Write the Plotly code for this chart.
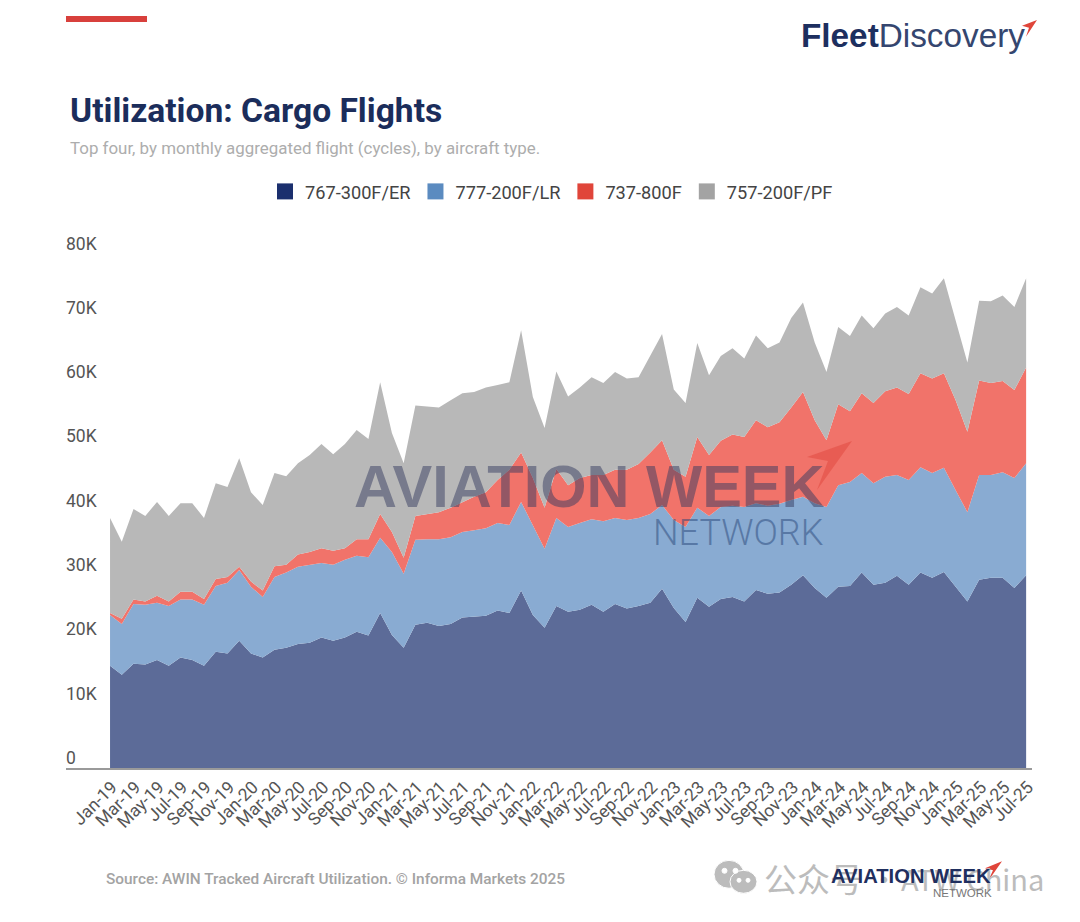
import plotly.graph_objects as go

# months shown on the x axis, Jan-19 .. Jul-25
month_names = ["Jan", "Feb", "Mar", "Apr", "May", "Jun", "Jul", "Aug", "Sep", "Oct", "Nov", "Dec"]
months = [f"{month_names[i % 12]}-{19 + i // 12}" for i in range(79)]

# monthly flight cycles, thousands
b767 = [15.9, 14.5, 16.2, 16.1, 16.8, 15.9, 17.2, 16.8, 15.9, 18.1, 17.8, 19.8,
        17.8, 17.2, 18.4, 18.7, 19.3, 19.5, 20.3, 19.8, 20.3, 21.2, 20.6, 24.1,
        20.7, 18.7, 22.3, 22.6, 22.1, 22.4, 23.4, 23.5, 23.7, 24.5, 24.1, 27.6,
        23.8, 21.8, 25.2, 24.3, 24.6, 25.4, 24.3, 25.5, 24.8, 25.2, 25.7, 27.9,
        24.9, 22.7, 26.5, 25.1, 26.3, 26.6, 25.9, 27.7, 27.1, 27.3, 28.5, 30.0,
        28.0, 26.5, 28.2, 28.3, 30.4, 28.5, 28.8, 29.9, 28.5, 30.4, 29.6, 30.5,
        28.2, 25.9, 29.3, 29.6, 29.6, 28.0, 30.0]
b777 = [7.9, 7.9, 9.3, 9.3, 8.9, 9.3, 9.0, 9.4, 9.5, 10.2, 11.0, 11.0,
        10.4, 9.4, 11.3, 11.7, 12.0, 12.1, 11.6, 11.8, 12.1, 11.8, 12.2, 11.7,
        12.9, 11.5, 13.2, 13.0, 13.5, 13.5, 13.3, 13.5, 13.6, 13.6, 13.7, 13.8,
        13.9, 12.3, 13.7, 13.2, 13.5, 13.3, 14.1, 13.4, 13.8, 13.7, 13.8, 13.0,
        13.7, 14.8, 14.0, 14.1, 14.3, 14.2, 14.7, 13.5, 13.7, 13.8, 13.2, 12.2,
        13.2, 14.1, 15.8, 16.2, 15.5, 15.8, 16.5, 15.7, 16.3, 16.4, 16.3, 16.2,
        15.0, 13.9, 16.3, 16.0, 16.4, 17.1, 17.4]
b737 = [0.3, 0.8, 0.7, 0.5, 1.1, 0.7, 1.2, 1.2, 0.9, 1.1, 0.9, 0.5,
        0.8, 1.0, 1.7, 1.2, 1.9, 2.0, 2.3, 2.2, 1.8, 2.6, 2.8, 3.7,
        3.1, 2.5, 3.7, 3.9, 4.2, 4.6, 4.7, 5.2, 5.6, 6.7, 8.6, 7.7,
        7.4, 6.4, 7.6, 6.5, 7.0, 6.9, 7.2, 7.5, 7.8, 8.4, 9.6, 10.1,
        7.8, 7.8, 11.0, 9.5, 10.3, 11.1, 10.9, 12.9, 12.2, 12.7, 14.4, 16.3,
        12.9, 10.4, 12.6, 11.0, 12.4, 12.5, 13.3, 13.6, 13.4, 14.6, 14.7, 14.7,
        14.0, 12.5, 14.7, 14.3, 14.2, 13.7, 14.9]
b757 = [14.8, 12.0, 14.1, 13.3, 14.6, 13.3, 13.8, 13.8, 12.6, 14.9, 14.0, 16.9,
        13.9, 13.3, 14.5, 13.8, 14.2, 15.1, 16.2, 15.0, 16.2, 17.0, 15.6, 20.5,
        15.4, 14.7, 17.2, 16.8, 16.3, 16.7, 16.9, 16.3, 16.3, 14.8, 13.6, 19.0,
        12.6, 12.4, 15.2, 13.8, 14.1, 15.2, 14.3, 15.2, 14.2, 13.5, 15.1, 16.5,
        12.5, 11.5, 14.6, 12.4, 13.2, 13.4, 12.2, 13.2, 12.3, 12.4, 13.9, 13.9,
        12.1, 10.6, 12.0, 11.7, 12.1, 11.6, 12.1, 12.5, 12.2, 13.4, 13.2, 14.8,
        12.4, 10.8, 12.4, 12.7, 13.3, 12.9, 13.9]

series_names = ["767-300F/ER", "777-200F/LR", "737-800F", "757-200F/PF"]
series_values = [b767, b777, b737, b757]
area_colors = ["#5c6b98", "#89abd2", "#f1736a", "#b8b8b8"]
legend_colors = ["#1b2f6e", "#5b8bc0", "#e0453a", "#a3a3a3"]

y_ticks = [0, 10, 20, 30, 40, 50, 60, 70, 80]
y_labels = ["0", "10K", "20K", "30K", "40K", "50K", "60K", "70K", "80K"]

# the page sits 8px inside the window (body margin), everything below is in window pixels
PAGE = 8
LEFT, RIGHT, TOP, BOTTOM = 66, 1032, 227.5, 768.5


def fx(px):
    return (px - LEFT) / (RIGHT - LEFT)


def fy(py):
    return (BOTTOM - py) / (BOTTOM - TOP)


def polygon(points, color):
    path = "M " + " L ".join(f"{fx(x)} {fy(y)}" for x, y in points) + " Z"
    return dict(type="path", xref="paper", yref="paper", path=path, fillcolor=color, line_width=0, layer="above")


def oval(x0, y0, x1, y1, color):
    return dict(type="circle", xref="paper", yref="paper", x0=fx(x0), x1=fx(x1), y0=fy(y0), y1=fy(y1),
                fillcolor=color, line=dict(color="white", width=1), layer="above")


def label(text, x, y, size, color, family="Roboto", anchor="left", weight=None):
    fig.add_annotation(text=text, xref="paper", yref="paper", x=fx(x), y=fy(y), xanchor=anchor, yanchor="middle",
                       showarrow=False, borderpad=0,
                       font=dict(family=family, size=size, color=color, weight=weight))


fig = go.Figure()

# stacked areas
for name, values, color in zip(series_names, series_values, area_colors):
    fig.add_trace(go.Scatter(x=months, y=values, name=name, mode="lines", stackgroup="one",
                             line=dict(width=0, color=color), fillcolor=color, showlegend=False))

# legend has solid square swatches, darker than the areas
for name, color in zip(series_names, legend_colors):
    fig.add_trace(go.Scatter(x=[None], y=[None], name=name, mode="markers",
                             marker=dict(symbol="square", size=18, color=color)))

# header
label("Utilization: Cargo Flights", 69, 109.5, 33.6, "#1b2d5b", weight="bold")
label("Top four, by monthly aggregated flight (cycles), by aircraft type.", 69, 147.5, 16.9, "#adadad")
label("<b>Fleet</b><span style='color:#35466f'>Discovery</span>", 800, 35, 33.3, "#1d2f5f", family="Liberation Sans")

# watermark over the areas
label("AVIATION WEEK", 353, 486, 59.5, "rgba(54,60,96,0.5)", family="Liberation Sans", weight="bold")
label("NETWORK", 652, 533, 36, "rgba(40,70,120,0.5)", weight=300)

# footer
label("Source: AWIN Tracked Aircraft Utilization. © Informa Markets 2025", 105, 880, 15.4, "#a3a3a3", weight=500)
label("公众号", 763, 879, 33, "#bcbcbc", family="Noto Sans CJK SC")
label("·", 868, 879, 30, "#bcbcbc", family="Noto Sans CJK SC")
label("ATW China", 1045, 879, 29, "#bcbcbc", family="Noto Sans CJK SC", anchor="right")
label("AVIATION WEEK", 830, 877, 20.2, "#1f2f5f", family="Liberation Sans", weight="bold")
label("NETWORK", 932, 893.5, 11.5, "#777777", family="Liberation Sans")

shapes = [
    dict(type="rect", xref="paper", yref="paper", x0=fx(66), x1=fx(147), y0=fy(15), y1=fy(21),
         fillcolor="#d8403c", line_width=0),
    polygon([(852, 441), (807, 457), (828, 461), (817, 490)], "rgba(224,70,60,0.5)"),
    polygon([(1037, 19), (1022, 25), (1029, 27), (1026, 36)], "#e0453a"),
    polygon([(1002, 862), (985, 869), (993, 871), (988, 882)], "#e0453a"),
    # wechat mark
    oval(714, 861, 744, 889, "#bcbcbc"),
    oval(730, 871, 757, 894, "#bcbcbc"),
    oval(722, 869, 727, 874, "white"),
    oval(733, 869, 738, 874, "white"),
    oval(737, 879, 741, 883, "white"),
    oval(746, 879, 750, 883, "white"),
]

fig.update_layout(
    width=1080 - 2 * PAGE,
    height=922 - 2 * PAGE,
    margin=dict(l=LEFT - PAGE, r=1080 - PAGE - RIGHT, t=TOP - PAGE, b=922 - PAGE - BOTTOM),
    plot_bgcolor="white",
    paper_bgcolor="white",
    font=dict(family="Roboto", color="#555555"),
    shapes=shapes,
    hovermode="x",
    legend=dict(orientation="h", x=fx(265), xanchor="left", y=fy(191), yanchor="middle", traceorder="normal",
                font=dict(family="Roboto", size=18.2, color="#444444"), itemsizing="trace"),
    xaxis=dict(type="category", categoryorder="array", categoryarray=months, range=[-3.75, 78.5],
               tickvals=months[::2], ticktext=months[::2], tickangle=-45, ticks="", ticklabelshift=2,
               showgrid=False, showline=True, linecolor="#9a9a9a", linewidth=2, zeroline=False,
               tickfont=dict(family="Roboto", size=17.5, color="#555555")),
    yaxis=dict(range=[0, (BOTTOM - TOP) / 6.44], tickvals=y_ticks, ticktext=y_labels,
               ticklabelposition="inside top", ticklabelstandoff=-3, ticklabelshift=2,
               ticks="", showgrid=False, zeroline=False, showline=False,
               tickfont=dict(family="Roboto", size=17.5, color="#555555")),
)

fig.write_html("out.html")
